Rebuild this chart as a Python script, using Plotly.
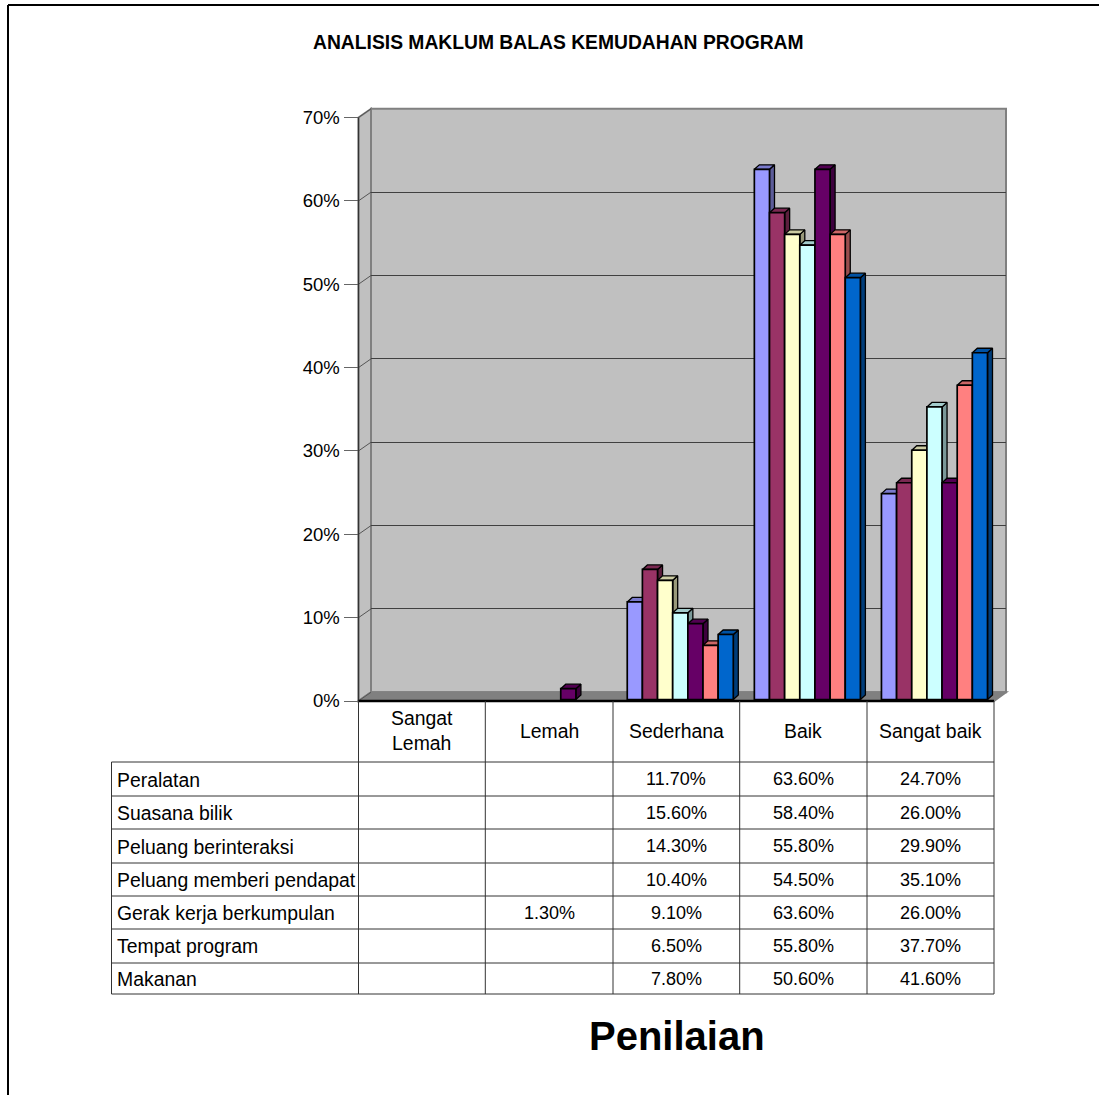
import plotly.graph_objects as go

W, H = 1099, 1095

title = "ANALISIS MAKLUM BALAS KEMUDAHAN PROGRAM"
x_title = "Penilaian"
categories = ["Sangat<br>Lemah", "Lemah", "Sederhana", "Baik", "Sangat baik"]
series_names = ["Peralatan", "Suasana bilik", "Peluang berinteraksi",
                "Peluang memberi pendapat", "Gerak kerja berkumpulan",
                "Tempat program", "Makanan"]
peralatan = [None, None, 11.7, 63.6, 24.7]
suasana_bilik = [None, None, 15.6, 58.4, 26.0]
peluang_berinteraksi = [None, None, 14.3, 55.8, 29.9]
peluang_memberi_pendapat = [None, None, 10.4, 54.5, 35.1]
gerak_kerja = [None, 1.3, 9.1, 63.6, 26.0]
tempat_program = [None, None, 6.5, 55.8, 37.7]
makanan = [None, None, 7.8, 50.6, 41.6]
series_values = [peralatan, suasana_bilik, peluang_berinteraksi,
                 peluang_memberi_pendapat, gerak_kerja, tempat_program, makanan]
front_colors = ["#9999FF", "#993366", "#FFFFCC", "#CCFFFF", "#660066", "#FF8080", "#0066CC"]
top_colors = ["#7A7ACC", "#7A2952", "#CCCCA3", "#A3CCCC", "#520052", "#CC6666", "#0052A3"]
side_colors = ["#5C5C99", "#5C1F3D", "#99997A", "#7A9999", "#3D003D", "#994D4D", "#003D7A"]
y_ticks = [0, 10, 20, 30, 40, 50, 60, 70]

# pixel geometry of the frame
LEFT, RIGHT, Y0, Y70 = 358.5, 994.0, 701.0, 117.5
BACK_DX, BACK_DY = 12.5, 8.7
TABLE_LEFT = 111.5
COLS = [358.5, 485.3, 613.0, 739.7, 867.0, 994.0]
ROWS = [762, 796, 829, 863, 896, 929, 963, 994]

px = lambda v: v / W
py = lambda v: 1 - v / H
cat_px = (RIGHT - LEFT) / 5
val_px = (Y0 - Y70) / 70

BAR_W = 15.15 / cat_px
BAR_START = -49.0 / cat_px
DEPTH_X = 5.0 / cat_px
DEPTH_Y = 4.5 / val_px
LIFT = 1.5 / val_px

fig = go.Figure()

# carries the back-wall subplot so that its gridlines are drawn
fig.add_trace(go.Scatter(x=[0], y=[0], mode="markers", marker=dict(opacity=0), xaxis="x", yaxis="y",
                         hoverinfo="skip", showlegend=False))

# side and top faces, drawn in series order under the fronts
for s, vals in enumerate(series_values):
    for c, v in enumerate(vals):
        if v is None:
            continue
        l = c + BAR_START + s * BAR_W
        r = l + BAR_W
        t = v + LIFT
        b = LIFT
        fig.add_trace(go.Scatter(
            x=[r, r + DEPTH_X, r + DEPTH_X, r, r],
            y=[b, b + DEPTH_Y, t + DEPTH_Y, t, b],
            mode="lines", fill="toself", fillcolor=side_colors[s],
            line=dict(color="black", width=1.3), xaxis="x2", yaxis="y2",
            hoverinfo="skip", showlegend=False))
        fig.add_trace(go.Scatter(
            x=[l, r, r + DEPTH_X, l + DEPTH_X, l],
            y=[t, t, t + DEPTH_Y, t + DEPTH_Y, t],
            mode="lines", fill="toself", fillcolor=top_colors[s],
            line=dict(color="black", width=1.3), xaxis="x2", yaxis="y2",
            hoverinfo="skip", showlegend=False))

# front faces
for s, vals in enumerate(series_values):
    fig.add_trace(go.Bar(
        x=list(range(len(categories))), y=vals, base=LIFT,
        width=BAR_W, offset=BAR_START + s * BAR_W,
        name=series_names[s], marker=dict(color=front_colors[s], line=dict(color="black", width=1.7)),
        xaxis="x3", yaxis="y3", showlegend=False))

shapes = []
def line(x0, y0, x1, y1, color="#333333", width=1, layer="above"):
    shapes.append(dict(type="line", xref="paper", yref="paper", x0=px(x0), y0=py(y0),
                       x1=px(x1), y1=py(y1), line=dict(color=color, width=width), layer=layer))
def poly(points, fill, color="#808080", width=2):
    d = "M " + " L ".join(f"{px(a)} {py(b)}" for a, b in points) + " Z"
    shapes.append(dict(type="path", xref="paper", yref="paper", path=d, fillcolor=fill,
                       line=dict(color=color, width=width), layer="below"))

# chart frame
line(8, 5, W, 5, "black", 2)
line(8, 5, 8, H, "black", 2)

# 3D walls
bl, br, bt, bb = LEFT + BACK_DX, RIGHT + BACK_DX - 0.5, Y70 - BACK_DY, Y0 - BACK_DY
poly([(bl, bt), (br, bt), (br, bb), (bl, bb)], "#C0C0C0")
poly([(LEFT, Y70), (bl, bt), (bl, bb), (LEFT, Y0)], "#C0C0C0")
poly([(LEFT, Y0), (bl, bb), (br, bb), (RIGHT, Y0)], "#808080")
for t in y_ticks:
    yt = Y0 - t * val_px
    line(LEFT, yt, bl, yt - BACK_DY, "#555555", 1, "below")
line(LEFT, Y70, LEFT, Y0, "#333333", 1.3)
line(LEFT, Y0, RIGHT, Y0, "black", 2.5)

# table
for x in COLS:
    line(x, Y0, x, ROWS[-1], "#333333", 1)
line(TABLE_LEFT, ROWS[0], TABLE_LEFT, ROWS[-1], "#333333", 1)
for y in ROWS:
    line(TABLE_LEFT, y, RIGHT, y, "#333333", 1)

FAMILY = "Liberation Sans, Arial, sans-serif"
VALUE_FONT = dict(family=FAMILY, color="black", size=18)
NAME_FONT = dict(family=FAMILY, color="black", size=19.4)
ann = []
def text(x, y, s, anchor="center", font=VALUE_FONT):
    ann.append(dict(xref="paper", yref="paper", x=px(x), y=py(y), text=s, showarrow=False,
                    xanchor=anchor, yanchor="middle", font=font, align="center"))

for c, name in enumerate(categories):
    text((COLS[c] + COLS[c + 1]) / 2, (Y0 + ROWS[0]) / 2 - 1, name, font=NAME_FONT)
for s, name in enumerate(series_names):
    ym = (ROWS[s] + ROWS[s + 1]) / 2
    text(TABLE_LEFT + 3.5, ym + 0.5, name, "left", font=NAME_FONT)
    for c, v in enumerate(series_values[s]):
        if v is not None:
            text((COLS[c] + COLS[c + 1]) / 2, ym, f"{v:.2f}%")
text(558.5, 43, title, font=dict(family=FAMILY, color="black", size=19.3, weight="bold"))
text(676.5, 1036, x_title, font=dict(family=FAMILY, color="black", size=40, weight="bold"))

hidden_x = dict(range=[-0.5, 4.5], showticklabels=False, showgrid=False, zeroline=False,
                showline=False, ticks="", automargin=False)
hidden_y = dict(range=[0, 70], showticklabels=False, showgrid=False, zeroline=False,
                showline=False, ticks="", automargin=False)
front_xd = [px(LEFT), px(RIGHT)]
front_yd = [py(Y0), py(Y70)]

fig.update_layout(
    width=W, height=H, autosize=False,
    margin=dict(l=0, r=0, t=0, b=0, autoexpand=False),
    paper_bgcolor="white", plot_bgcolor="rgba(0,0,0,0)",
    barmode="overlay", shapes=shapes, annotations=ann,
    # back wall: gridlines only
    xaxis=dict(hidden_x, domain=[px(bl), px(br)], anchor="y"),
    yaxis=dict(range=[0, 70], domain=[py(bb), py(bt)], anchor="x", tickvals=y_ticks,
               showgrid=True, gridcolor="#404040", gridwidth=1.3, zeroline=False,
               showticklabels=False, ticks="", showline=False, automargin=False),
    # front plane: value axis and side/top faces
    xaxis2=dict(hidden_x, domain=front_xd, anchor="y2"),
    yaxis2=dict(range=[0, 70], domain=front_yd, anchor="x2", tickvals=y_ticks,
                ticktext=[f"{t}%" for t in y_ticks], showgrid=False, zeroline=False,
                ticks="outside", ticklen=14, tickcolor="#666666", tickwidth=1,
                showline=False, tickfont=dict(family=FAMILY, color="black", size=18.5),
                automargin=False),
    # bars above the faces
    xaxis3=dict(hidden_x, domain=front_xd, anchor="y3", overlaying="x2"),
    yaxis3=dict(hidden_y, domain=front_yd, anchor="x3", overlaying="y2"),
)

fig.write_html("out.html", config=dict(displayModeBar=False),
               post_script="document.body.style.margin='0';document.body.style.overflow='hidden';")
